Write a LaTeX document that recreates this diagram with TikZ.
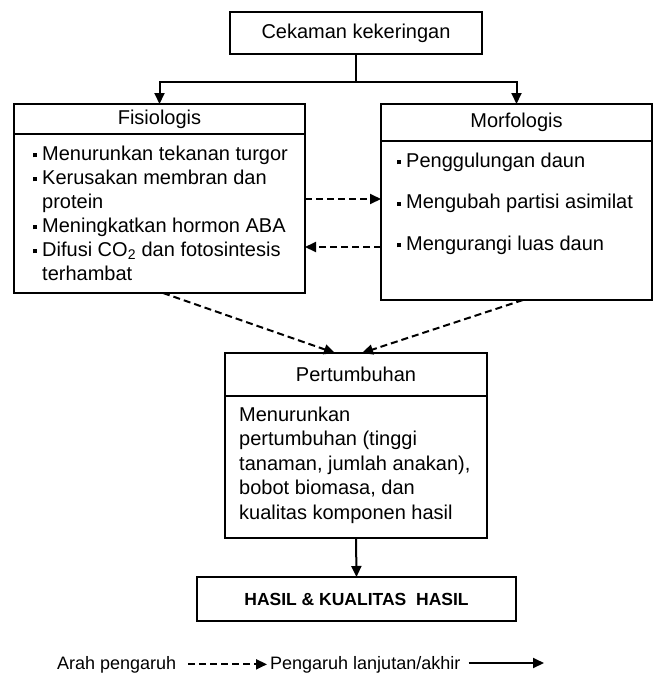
\documentclass[tikz,border=0pt]{standalone}
\usepackage{fontspec}
\setmainfont{Liberation Sans}
\usetikzlibrary{positioning, arrows.meta, calc}

\newcommand{\sqbul}{\makebox[9pt][l]{\rule[3pt]{4pt}{4pt}}}
\newcommand{\bulgap}{\hspace*{9pt}}

\begin{document}
\begin{tikzpicture}[x=1pt, y=-1pt,
        box/.style={draw, line width=2pt, inner sep=0pt, outer sep=0pt,
            font=\fontsize{20}{24}\selectfont},
        body/.style={inner sep=0pt, align=left, anchor=north west,
            font=\fontsize{20}{24}\selectfont},
        link/.style={line width=2pt, -{Triangle[length=11pt,width=10pt]}},
        dashlink/.style={link, dash pattern=on 7pt off 4pt},
        legend/.style={inner sep=0pt, anchor=base west, font=\fontsize{18}{20}\selectfont}
    ]
        \useasboundingbox (0,0) rectangle (654,675);

        % top box
        \node[box, minimum width=252pt, minimum height=42pt] (stress) at (356,33) {Cekaman kekeringan};

        % Fisiologis
        \node[box, minimum width=291pt, minimum height=30pt, anchor=north west] (fishead) at (14,104) {Fisiologis};
        \node[box, minimum width=291pt, minimum height=159pt, anchor=north] (fisbody) at (fishead.south) {};
        \node[body] (fistext) at (33,145.7) {\sqbul Menurunkan tekanan turgor\\
            \sqbul Kerusakan membran dan\\
            \bulgap protein\\
            \sqbul Meningkatkan hormon ABA\\
            \sqbul Difusi CO\textsubscript{2} dan fotosintesis\\
            \bulgap terhambat};

        % Morfologis
        \node[box, minimum width=271pt, minimum height=37pt, anchor=north west] (morhead) at (381,104) {Morfologis};
        \node[box, minimum width=271pt, minimum height=159pt, anchor=north] (morbody) at (morhead.south) {};
        \node[body] (mortext) at (397,152.7) {\sqbul Penggulungan daun\\[17.5pt]
            \sqbul Mengubah partisi asimilat\\[17.5pt]
            \sqbul Mengurangi luas daun};

        % Pertumbuhan
        \node[box, minimum width=262pt, minimum height=43pt, anchor=north west] (growhead) at (225,353) {Pertumbuhan};
        \node[box, minimum width=262pt, minimum height=142pt, anchor=north] (growbody) at (growhead.south) {};
        \node[body, font=\fontsize{20}{24.5}\selectfont] (growtext) at (239,406.7) {Menurunkan\\
            pertumbuhan (tinggi\\
            tanaman, jumlah anakan),\\
            bobot biomasa, dan\\
            kualitas komponen hasil};

        % hasil
        \node[box, minimum width=319pt, minimum height=44pt, font=\bfseries\fontsize{17.5}{20}\selectfont] (yield) at (356.5,599) {HASIL \& KUALITAS\ \ HASIL};

        % connectors
        \coordinate (branch) at (stress.south |- 0,82);
        \draw[line width=2pt] (stress.south) -- (branch);
        \draw[link] (branch) -| (fishead.north);
        \draw[link] (branch) -| (morhead.north);

        \draw[dashlink] ([yshift=14.5pt]fisbody.east) -- ([yshift=14.5pt]fisbody.east -| morbody.west);
        \draw[dashlink] ([yshift=-33.5pt]fisbody.east -| morbody.west) -- ([yshift=-33.5pt]fisbody.east);

        \draw[dashlink] ([xshift=3.5pt]fisbody.south) -- ([xshift=-21pt]growhead.north);
        \draw[dashlink] ([xshift=6.5pt]morbody.south) -- ([xshift=6pt]growhead.north);
        \draw[link] (growbody.south) -- (yield.north);

        % legend
        \node[legend] (legdash) at (57,669) {Arah pengaruh};
        \node[legend] (legsolid) at (270,669) {Pengaruh lanjutan/akhir};
        \coordinate (legend end) at (544,663);
        \draw[dashlink] ([xshift=12pt]legdash.east) -- ([xshift=-3pt]legsolid.west);
        \draw[link] ([xshift=8pt]legsolid.east |- legend end) -- (legend end);
    \end{tikzpicture}
\end{document}
